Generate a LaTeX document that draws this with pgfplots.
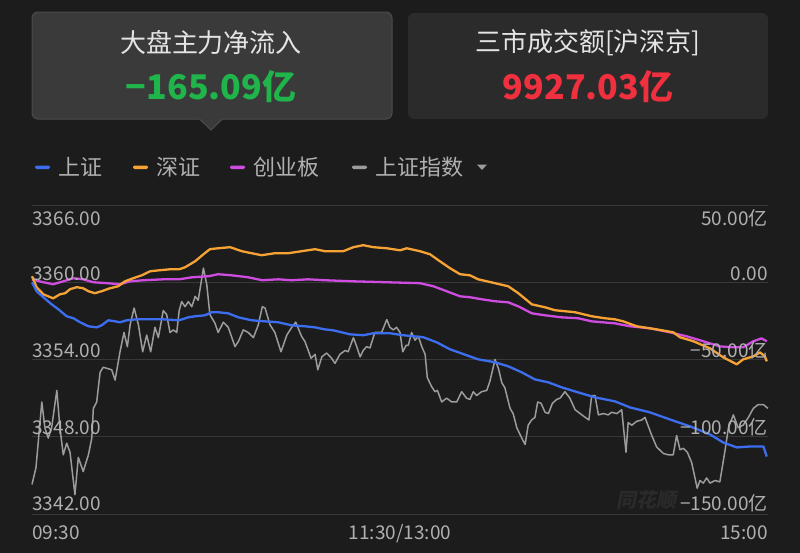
\documentclass[border=0pt]{standalone}
\usepackage{pgfplots}
\pgfplotsset{compat=1.18}
\usepackage{fontspec}
\setmainfont{Noto Sans CJK SC}
\definecolor{bg}{HTML}{1C1C1C}
\definecolor{boxa}{HTML}{3A3A3A}
\definecolor{boxaedge}{HTML}{4C4C4C}
\definecolor{boxb}{HTML}{2B2B2B}
\definecolor{gridc}{HTML}{383838}
\definecolor{cblue}{HTML}{3D6EF0}
\definecolor{corange}{HTML}{F7A234}
\definecolor{cmag}{HTML}{CF4CE0}
\definecolor{cgray}{HTML}{9C9C9C}
\definecolor{titlec}{HTML}{E4E4E4}
\definecolor{labc}{HTML}{B0B0B0}
\definecolor{greenv}{HTML}{1FB54A}
\definecolor{redv}{HTML}{F0303E}
\definecolor{wm}{HTML}{2A2A2A}
\begin{document}
\begin{tikzpicture}
\begin{scope}[x=0.5pt,y=-0.5pt]
\fill[bg] (0,0) rectangle (800,553);
% box 1
\fill[boxa, draw=boxaedge, line width=0.5pt, rounded corners=3pt] (32,12) rectangle (392,119);
\fill[boxa] (199,118.2) -- (223,118.2) -- (211,130) -- cycle;
\draw[boxaedge, line width=0.5pt] (199.5,119) -- (211,130) -- (222.5,119);
\node[text=titlec, font=\fontsize{13}{13}\selectfont] at (211,43) {大盘主力净流入};
\node[text=greenv, font=\fontsize{17}{17}\selectfont\bfseries] at (211,87) {−165.09亿};
% box 2
\fill[boxb, rounded corners=3pt] (408,13) rectangle (768,119);
\node[text=titlec, font=\fontsize{13}{13}\selectfont] at (588,43) {三市成交额[沪深京]};
\node[text=redv, font=\fontsize{17}{17}\selectfont\bfseries] at (588,87) {9927.03亿};
% legend
\fill[cblue, rounded corners=0.7pt] (35,165.5) rectangle (50,169);
\node[anchor=west, inner sep=0, text=labc, font=\fontsize{11}{11}\selectfont] at (58,167) {上证};
\fill[corange, rounded corners=0.7pt] (133,165.5) rectangle (148,169);
\node[anchor=west, inner sep=0, text=labc, font=\fontsize{11}{11}\selectfont] at (156,167) {深证};
\fill[cmag, rounded corners=0.7pt] (230,165.5) rectangle (245,169);
\node[anchor=west, inner sep=0, text=labc, font=\fontsize{11}{11}\selectfont] at (253,167) {创业板};
\fill[cgray, rounded corners=0.7pt] (352,165.5) rectangle (367,169);
\node[anchor=west, inner sep=0, text=labc, font=\fontsize{11}{11}\selectfont] at (375,167) {上证指数};
\fill[cgray] (477,164.5) -- (487,164.5) -- (482,170) -- cycle;
% watermark
\node[text=wm, inner sep=0, font=\fontsize{10}{10}\selectfont\bfseries, xslant=0.2] at (648,500) {同花顺};
\end{scope}

\begin{axis}[
  at={(16pt,-257pt)}, anchor=south west,
  scale only axis, width=368pt, height=154.5pt,
  xmin=0, xmax=240, ymin=3342, ymax=3366,
  axis line style={draw=none}, xtick=\empty,
  ytick={3342,3348,3354,3360,3366}, yticklabels={},
  major tick length=0pt,
  ymajorgrids, grid style={gridc, line width=0.5pt},
  clip=false,
]
\addplot[cgray, line width=0.75pt, line join=round] coordinates {
(0,3344.3)(1.3,3345.6)(3.2,3350.7)(4.2,3348.7)(5.3,3347.9)(6.4,3348.7)(8.1,3351.6)(9.1,3348.7)(10.2,3346.6)(11.3,3347.5)(12.4,3346.8)(14.0,3343.5)(15.1,3346.4)(16.7,3345.3)(18.4,3346.6)(19.5,3347.9)(20.0,3350.2)(21.1,3350.7)(22.2,3353.0)(23.2,3353.4)(26.0,3353.2)(27.1,3352.4)(28.7,3354.6)(30.0,3356.1)(31.1,3355.0)(32.0,3356.7)(33.3,3358.0)(34.7,3356.7)(36.1,3354.6)(37.4,3355.9)(38.7,3354.6)(40.1,3356.5)(41.2,3355.7)(42.8,3357.8)(43.9,3357.5)(45.0,3356.1)(46.1,3356.3)(47.2,3356.1)(48.0,3357.8)(48.8,3358.5)(49.9,3358.1)(51.0,3358.5)(52.1,3358.1)(53.2,3358.9)(54.2,3358.6)(55.9,3361.1)(57.0,3359.8)(58.0,3357.5)(59.7,3356.8)(60.7,3356.1)(62.4,3356.9)(64.0,3356.5)(66.2,3355.0)(67.3,3355.4)(68.9,3356.3)(70.5,3356.1)(72.2,3355.7)(73.8,3356.7)(75.1,3358.1)(76.0,3358.0)(77.6,3356.7)(79.2,3356.1)(81.2,3354.6)(83.1,3355.9)(84.7,3356.5)(86.0,3356.9)(87.9,3355.8)(89.0,3355.4)(91.0,3354.1)(92.3,3354.4)(93.2,3353.2)(94.5,3354.2)(95.5,3354.4)(96.1,3354.5)(97.7,3354.1)(98.8,3353.7)(100.4,3354.4)(102.1,3354.7)(103.1,3354.6)(104.8,3355.7)(105.9,3355.0)(107.0,3354.2)(108.0,3354.7)(109.1,3355.0)(110.2,3354.9)(111.8,3356.1)(112.9,3356.1)(114.0,3356.1)(115.7,3357.1)(116.7,3356.5)(117.8,3356.3)(118.9,3356.5)(120.0,3356.1)(120.9,3354.6)(122.0,3355.1)(122.7,3355.1)(123.8,3356.1)(124.9,3355.5)(126.0,3355.8)(127.1,3355.0)(128.2,3354.4)(128.9,3352.6)(130.3,3351.9)(131.4,3351.5)(132.2,3351.6)(133.6,3350.7)(135.2,3351.0)(136.9,3350.7)(138.5,3350.7)(140.1,3351.5)(141.7,3351.0)(142.8,3350.9)(143.9,3351.5)(145.0,3351.2)(146.6,3351.5)(148.3,3351.6)(149.3,3352.3)(151.0,3354.0)(152.1,3353.3)(153.2,3352.2)(154.2,3351.8)(155.9,3350.2)(156.9,3349.8)(158.1,3348.7)(159.7,3347.9)(160.8,3347.4)(161.8,3348.9)(162.9,3349.3)(164.0,3349.5)(164.9,3350.7)(166.0,3350.6)(167.3,3349.9)(168.4,3349.8)(169.7,3350.6)(171.1,3350.9)(172.2,3351.0)(173.8,3351.5)(175.4,3351.0)(177.1,3350.1)(179.3,3349.7)(181.6,3349.3)(182.5,3351.2)(183.6,3351.2)(184.7,3349.7)(186.3,3349.8)(187.9,3349.7)(189.0,3349.9)(190.7,3349.8)(192.3,3350.1)(193.7,3346.8)(194.4,3349.1)(195.6,3348.9)(197.2,3349.2)(198.8,3349.3)(199.9,3349.5)(201.0,3348.8)(202.1,3348.1)(203.7,3347.2)(205.9,3346.7)(207.5,3346.6)(209.1,3346.6)(210.2,3348.1)(211.3,3347.0)(212.4,3347.1)(213.7,3346.8)(215.1,3346.0)(216.2,3344.8)(216.9,3344.0)(217.8,3344.6)(218.9,3344.4)(220.0,3344.8)(221.1,3344.4)(222.7,3344.6)(224.3,3344.5)(225.9,3346.8)(227.1,3348.7)(228.7,3349.7)(230.3,3348.7)(231.9,3348.9)(233.6,3349.5)(235.2,3350.2)(236.8,3350.5)(238.5,3350.5)(240,3350.2)
};
\end{axis}

\begin{axis}[
  at={(16pt,-257pt)}, anchor=south west,
  scale only axis, width=368pt, height=154.5pt,
  xmin=0, xmax=240, ymin=-150, ymax=50,
  hide axis, clip=false,
]
\addplot[cmag, line width=1.15pt, line join=round] coordinates {
(0,1.9)(3.7,0)(6.9,-1.3)(10.2,0.6)(13.5,2.6)(16.7,1.9)(20.0,0)(24.4,-0.6)(28.7,-1.3)(32.0,0.6)(36.3,1.3)(42.8,1.9)(48.0,1.9)(52.1,3.2)(57.5,3.9)(60.7,5.2)(65.1,4.5)(70.5,3.2)(75.1,1.3)(80.3,1.9)(84.7,1.3)(90.1,1.9)(95.5,1.3)(104.8,0.6)(115.7,0)(126.5,-0.6)(130.9,-2.6)(135.2,-5.8)(139.6,-9.1)(142.8,-9.7)(146.6,-11.0)(151.0,-12.3)(155.3,-13.0)(158.6,-15.6)(163.0,-20.1)(167.3,-21.4)(172.7,-22.7)(178.1,-23.3)(182.5,-25.3)(190.1,-26.6)(195.0,-28.5)(201.5,-29.8)(208.0,-32.4)(213.5,-35.0)(218.9,-38.2)(224.3,-41.5)(228.7,-42.1)(231.9,-42.1)(235.2,-38.2)(237.9,-36.3)(239.6,-38.2)
};
\addplot[corange, line width=1.15pt, line join=round] coordinates {
(0,3.9)(1.5,-3.2)(3.7,-7.8)(6.9,-10.4)(9.1,-7.8)(10.8,-7.1)(12.4,-4.5)(14.6,-3.2)(16.7,-3.9)(18.4,-5.8)(20.5,-7.1)(22.7,-5.8)(25.4,-3.9)(28.1,-2.6)(30.3,0.6)(33.0,2.6)(35.8,4.5)(38.5,7.1)(41.7,7.8)(45.0,8.4)(48.0,8.4)(49.9,9.7)(53.2,13.6)(55.9,18.1)(58.0,21.4)(60.7,22.0)(64.6,22.7)(68.4,20.1)(71.6,18.8)(74.9,17.5)(79.2,18.8)(83.6,18.8)(87.9,20.1)(92.3,21.4)(95.5,20.1)(101.5,20.1)(104.8,22.7)(108.0,24.0)(111.3,22.7)(115.7,22.0)(120.0,20.7)(122.2,22.0)(126.5,20.1)(129.8,18.1)(133.0,13.6)(136.3,9.1)(139.6,5.2)(142.8,4.5)(145.5,1.9)(151.0,-0.6)(155.3,-2.6)(158.6,-7.1)(163.0,-14.3)(167.3,-16.2)(170.5,-18.1)(177.1,-19.4)(182.5,-22.0)(186.8,-23.3)(190.1,-24.0)(192.8,-25.3)(197.2,-28.5)(203.7,-30.5)(209.1,-32.4)(211.3,-35.6)(215.7,-38.2)(221.1,-42.8)(225.4,-48.6)(229.8,-53.1)(231.9,-49.9)(235.2,-48.0)(237.4,-45.4)(239.0,-48.0)(239.6,-51.2)
};
\addplot[cblue, line width=1.15pt, line join=round] coordinates {
(0,0)(1.5,-5.8)(3.7,-9.7)(6.4,-14.3)(8.6,-17.5)(11.3,-22.0)(13.5,-23.3)(15.7,-25.9)(18.4,-28.5)(21.1,-29.2)(22.7,-27.9)(24.9,-24.6)(27.1,-25.3)(28.7,-25.9)(30.9,-24.6)(34.1,-24.0)(38.5,-24.0)(42.8,-24.0)(48.0,-24.6)(51.0,-22.7)(53.2,-22.0)(56.4,-21.4)(58.6,-19.4)(60.7,-19.4)(64.0,-20.1)(67.3,-22.7)(71.6,-24.6)(76.0,-25.3)(80.3,-25.9)(84.7,-27.9)(89.0,-28.5)(92.3,-29.2)(95.5,-30.5)(98.2,-31.1)(103.7,-33.7)(108.0,-34.3)(111.3,-33.0)(116.7,-33.0)(121.1,-34.3)(127.6,-35.6)(132.0,-38.9)(136.3,-43.4)(142.8,-48.0)(145.5,-49.9)(151.0,-51.8)(155.3,-54.4)(159.7,-58.3)(164.0,-62.9)(168.4,-64.8)(172.7,-68.0)(178.1,-71.3)(183.6,-74.5)(190.1,-77.1)(195.0,-81.0)(201.5,-84.2)(208.0,-88.8)(214.6,-93.3)(221.1,-98.5)(225.4,-103.7)(229.8,-106.9)(234.1,-106.3)(238.5,-106.3)(239.6,-112.8)
};
\end{axis}

\begin{scope}[x=0.5pt,y=-0.5pt, every node/.style={inner sep=0, text=labc, font=\fontsize{9.5}{9.5}\selectfont}]
\node[anchor=base west] at (32,225) {3366.00};
\node[anchor=base west] at (32,280) {3360.00};
\node[anchor=base west] at (32,357) {3354.00};
\node[anchor=base west] at (32,434) {3348.00};
\node[anchor=base west] at (32,510) {3342.00};
\node[anchor=base east] at (768,225) {50.00亿};
\node[anchor=base east] at (768,280) {0.00};
\node[anchor=base east] at (768,357) {−50.00亿};
\node[anchor=base east] at (768,434) {−100.00亿};
\node[anchor=base east] at (768,510) {−150.00亿};
\node[anchor=base west] at (32,539) {09:30};
\node[anchor=base] at (400,539) {11:30/13:00};
\node[anchor=base east] at (768,539) {15:00};
\end{scope}
\end{tikzpicture}
\end{document}
